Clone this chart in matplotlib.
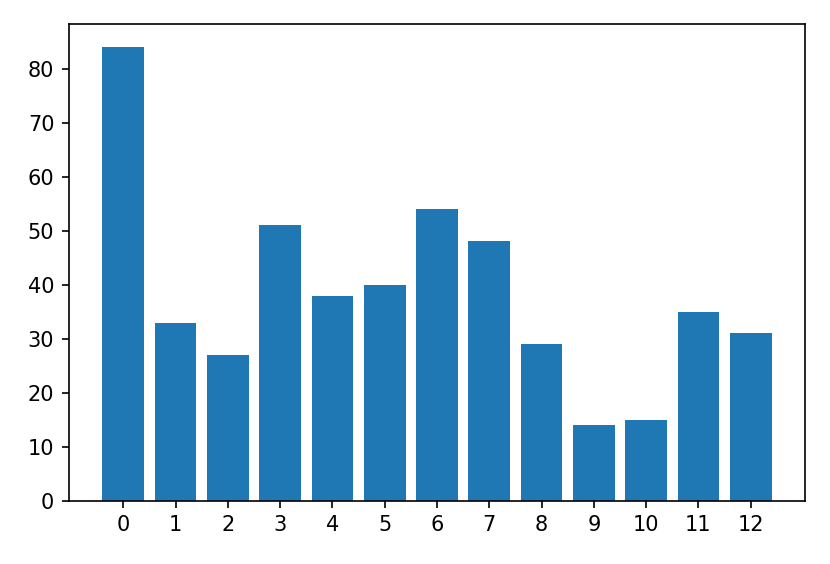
import matplotlib
matplotlib.use("Agg")
import matplotlib.pyplot as plt

# bar heights
categories = list(range(13))
values = [84, 33, 27, 51, 38, 40, 54, 48, 29, 14, 15, 35, 31]

fig, ax = plt.subplots(figsize=(830 / 150, 564 / 150), dpi=150)
ax.bar(categories, values, color="#1f77b4")
ax.set_xticks(categories)
fig.subplots_adjust(left=0.083, right=0.970, top=0.957, bottom=0.112)
fig.savefig("out.png", dpi=150)
